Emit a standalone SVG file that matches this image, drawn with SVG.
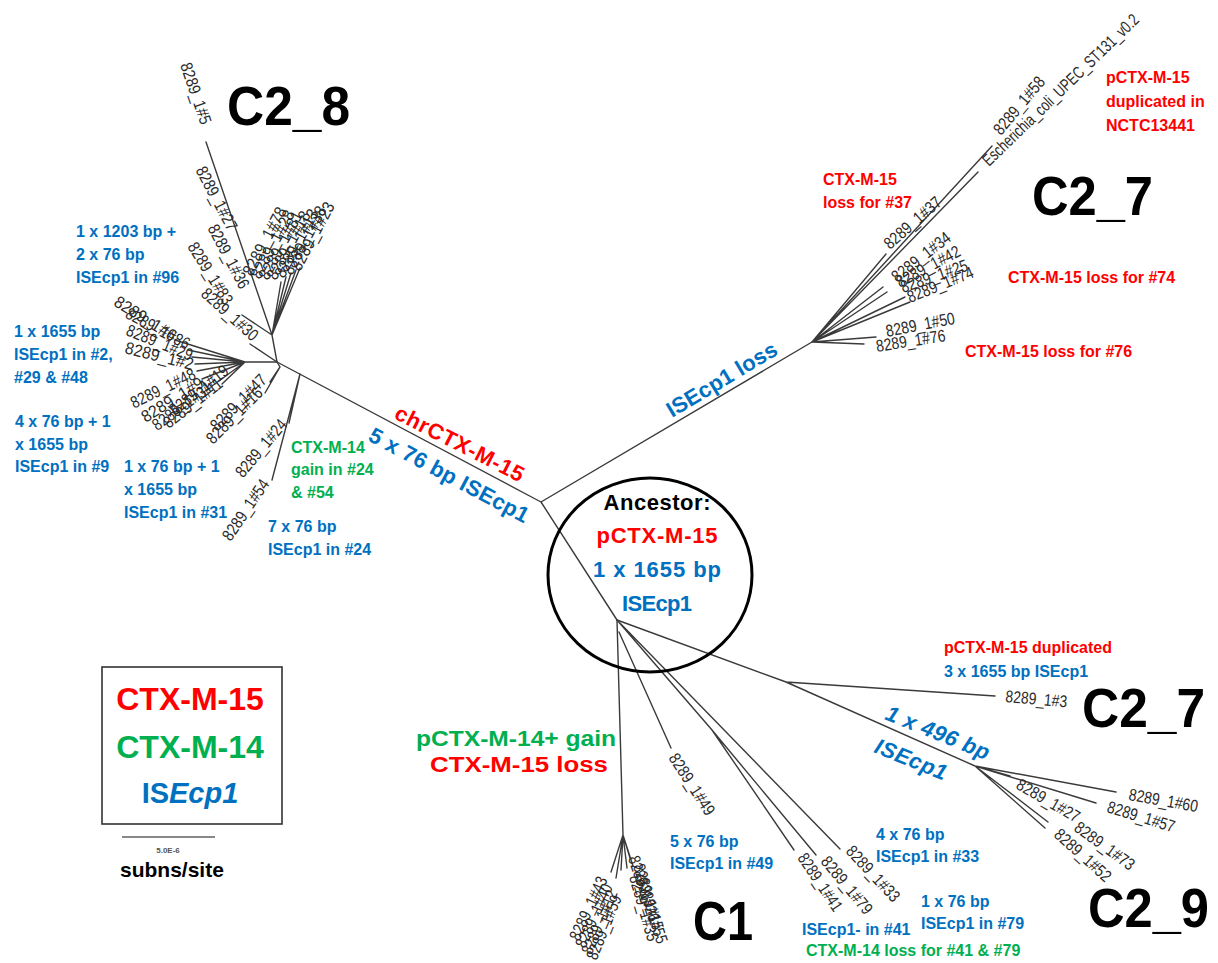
<svg xmlns="http://www.w3.org/2000/svg" width="1218" height="963" viewBox="0 0 1218 963">
<style>
.ln{stroke:#3a3a3a;stroke-width:1.4;fill:none;stroke-linecap:round}
.lf{font-family:"Liberation Sans Narrow","Liberation Sans",sans-serif;font-size:17px;fill:#2a2a2a}
.an{font-family:"Liberation Sans",Arial,sans-serif;font-weight:bold;font-size:16px}
.big{font-family:"Liberation Sans",Arial,sans-serif;font-weight:bold;font-size:56px;fill:#000}
.br{font-family:"Liberation Sans",Arial,sans-serif;font-weight:bold;font-size:22px}
.bl{fill:#0070C0}.rd{fill:#FF0000}.gr{fill:#00B050}
</style>
<rect width="1218" height="963" fill="#fff"/>
<g id="connectors">
<path class="ln" d="M541,502 L277,362 M541,502 L812,342 M541,502 L617,620"/>
<path class="ln" d="M812,342 L886,254 M812,342 L978,172 M812,342 L992,146 M812,342 L883,287 M812,342 L887,292 M812,342 L905,297 M812,342 L910,302 M812,342 L876,337 M812,342 L864,344"/>
<path class="ln" d="M617,620 L786,682 L995,696 M786,682 L975,766 L1116,792 M975,766 L1096,803 M975,766 L1010,776 M975,766 L1048,822 M975,766 L1045,828"/>
<path class="ln" d="M617,620 L623,835 M623,835 L611,872 M623,835 L616,878 M623,835 L621,870 M623,835 L627,868 M623,835 L633,866 M623,835 L630,858"/>
<path class="ln" d="M619,632 L671,748 M617,620 L712,730 L794,850 M712,730 L816,855 M617,620 L840,849"/>
<path class="ln" d="M277,362 L272,335 L206,142 M272,335 L281,282 M272,335 L286,277 M272,335 L291,273 M272,335 L296,270 M272,335 L300,268 M272,335 L242,315 M277,362 L250,344"/>
<path class="ln" d="M277,362 L245,362 M245,362 L175,340 M245,362 L188,350 M245,362 L192,357 M245,362 L195,364 M245,362 L197,371 M245,362 L202,379 M245,362 L212,386 M245,362 L222,384"/>
<path class="ln" d="M277,362 L280,367 L270,382 M280,367 L265,393 M300,374 L289,423 M300,374 L272,480"/>
</g>
<g id="ancestor">
<ellipse cx="650" cy="575" rx="102" ry="97" fill="none" stroke="#000" stroke-width="3"/>
<text class="br" x="657" y="510" text-anchor="middle" fill="#000" textLength="107">Ancestor:</text>
<text class="br rd" x="657" y="543" text-anchor="middle" textLength="121">pCTX-M-15</text>
<text class="br bl" x="657" y="577" text-anchor="middle" textLength="128">1 x 1655 bp</text>
<text class="br bl" x="657" y="611" text-anchor="middle" textLength="70">ISEcp1</text>
</g>
<g id="branch-labels">
<text class="br rd" transform="translate(393,418) rotate(27)" textLength="142">chrCTX-M-15</text>
<text class="br bl" transform="translate(367,440) rotate(28)" textLength="178">5 x 76 bp ISEcp1</text>
<text class="br bl" transform="translate(672,418) rotate(-31)" textLength="125">ISEcp1 loss</text>
<text class="br bl" font-style="italic" transform="translate(884,719) rotate(22)" textLength="110">1 x 496 bp</text>
<text class="br bl" font-style="italic" transform="translate(873,752) rotate(22)" textLength="76">ISEcp1</text>
<text class="an gr" x="416" y="746" style="font-size:22px" textLength="200" lengthAdjust="spacingAndGlyphs">pCTX-M-14+ gain</text>
<text class="an rd" x="430" y="772" style="font-size:22px" textLength="178" lengthAdjust="spacingAndGlyphs">CTX-M-15  loss</text>
</g>
<g id="clade-C2_7-top">
<text class="big" x="1032" y="215" textLength="121" lengthAdjust="spacingAndGlyphs">C2_7</text>
<text class="lf" transform="translate(890,250) rotate(-41)" textLength="70" lengthAdjust="spacingAndGlyphs">8289_1#37</text>
<text class="lf" transform="translate(989,167) rotate(-44)" textLength="210" lengthAdjust="spacingAndGlyphs">Escherichia_coli_UPEC_ST131_v0.2</text>
<text class="lf" transform="translate(1001,136) rotate(-50)" textLength="70" lengthAdjust="spacingAndGlyphs">8289_1#58</text>
<text class="lf" transform="translate(897,283) rotate(-38)" textLength="70" lengthAdjust="spacingAndGlyphs">8289_1#34</text>
<text class="lf" transform="translate(900,288) rotate(-28)" textLength="70" lengthAdjust="spacingAndGlyphs">8289_1#42</text>
<text class="lf" transform="translate(903,293) rotate(-19)" textLength="70" lengthAdjust="spacingAndGlyphs">8289_1#25</text>
<text class="lf" transform="translate(910,303) rotate(-22)" textLength="70" lengthAdjust="spacingAndGlyphs">8289_1#74</text>
<text class="lf" transform="translate(887,337) rotate(-11)" textLength="70" lengthAdjust="spacingAndGlyphs">8289_1#50</text>
<text class="lf" transform="translate(877,352) rotate(-9)" textLength="70" lengthAdjust="spacingAndGlyphs">8289_1#76</text>
<text class="an rd" x="1106" y="83">pCTX-M-15</text>
<text class="an rd" x="1106" y="107">duplicated in</text>
<text class="an rd" x="1106" y="131">NCTC13441</text>
<text class="an rd" x="823" y="185">CTX-M-15</text>
<text class="an rd" x="823" y="208">loss for #37</text>
<text class="an rd" x="1008" y="283">CTX-M-15 loss for #74</text>
<text class="an rd" x="965" y="357">CTX-M-15 loss for #76</text>
</g>
<g id="clade-C2_7-bottom">
<text class="big" x="1082" y="727" textLength="123" lengthAdjust="spacingAndGlyphs">C2_7</text>
<text class="lf" transform="translate(1005,702) rotate(5)" textLength="62" lengthAdjust="spacingAndGlyphs">8289_1#3</text>
<text class="an rd" x="944" y="653">pCTX-M-15 duplicated</text>
<text class="an bl" x="944" y="677">3 x 1655 bp ISEcp1</text>
</g>
<g id="clade-C2_9">
<text class="big" x="1088" y="927" textLength="121" lengthAdjust="spacingAndGlyphs">C2_9</text>
<text class="lf" transform="translate(1128,800) rotate(10)" textLength="70" lengthAdjust="spacingAndGlyphs">8289_1#60</text>
<text class="lf" transform="translate(1106,812) rotate(17)" textLength="70" lengthAdjust="spacingAndGlyphs">8289_1#57</text>
<text class="lf" transform="translate(1015,788) rotate(30)" textLength="70" lengthAdjust="spacingAndGlyphs">8289_1#27</text>
<text class="lf" transform="translate(1073,830) rotate(36)" textLength="70" lengthAdjust="spacingAndGlyphs">8289_1#73</text>
<text class="lf" transform="translate(1053,836) rotate(42)" textLength="70" lengthAdjust="spacingAndGlyphs">8289_1#52</text>
<text class="an bl" x="876" y="840">4 x 76 bp</text>
<text class="an bl" x="876" y="862">ISEcp1 in #33</text>
<text class="an bl" x="921" y="907">1 x 76 bp</text>
<text class="an bl" x="921" y="929">ISEcp1 in #79</text>
<text class="an bl" x="802" y="935">ISEcp1- in #41</text>
<text class="an gr" x="806" y="956">CTX-M-14 loss for #41 &amp; #79</text>
</g>
<g id="clade-C1">
<text class="big" x="693" y="940" textLength="60" lengthAdjust="spacingAndGlyphs">C1</text>
<text class="lf" transform="translate(668,758) rotate(57)" textLength="70" lengthAdjust="spacingAndGlyphs">8289_1#49</text>
<text class="lf" transform="translate(797,858) rotate(56)" textLength="66" lengthAdjust="spacingAndGlyphs">8289_1#41</text>
<text class="lf" transform="translate(820,862) rotate(50)" textLength="70" lengthAdjust="spacingAndGlyphs">8289_1#79</text>
<text class="lf" transform="translate(845,852) rotate(47)" textLength="70" lengthAdjust="spacingAndGlyphs">8289_1#33</text>
<text class="lf" text-anchor="end" transform="translate(608,880) rotate(-65)" textLength="68" lengthAdjust="spacingAndGlyphs">8289_1#43</text>
<text class="lf" text-anchor="end" transform="translate(613,887) rotate(-66)" textLength="68" lengthAdjust="spacingAndGlyphs">8289_1#40</text>
<text class="lf" text-anchor="end" transform="translate(618,893) rotate(-67)" textLength="68" lengthAdjust="spacingAndGlyphs">8289_1#12</text>
<text class="lf" text-anchor="end" transform="translate(622,898) rotate(-68)" textLength="68" lengthAdjust="spacingAndGlyphs">8289_1#59</text>
<text class="lf" transform="translate(628,858) rotate(72)" textLength="68" lengthAdjust="spacingAndGlyphs">8289_1#26</text>
<text class="lf" transform="translate(633,866) rotate(73)" textLength="68" lengthAdjust="spacingAndGlyphs">8289_1#15</text>
<text class="lf" transform="translate(629,877) rotate(74)" textLength="68" lengthAdjust="spacingAndGlyphs">8289_1#35</text>
<text class="lf" transform="translate(636,880) rotate(72)" textLength="68" lengthAdjust="spacingAndGlyphs">8289_1#55</text>
<text class="an bl" x="670" y="847">5 x 76 bp</text>
<text class="an bl" x="670" y="869">ISEcp1 in #49</text>
</g>
<g id="clade-C2_8">
<text class="big" x="227" y="125" textLength="123" lengthAdjust="spacingAndGlyphs">C2_8</text>
<text class="lf" transform="translate(180,65) rotate(71)" textLength="64" lengthAdjust="spacingAndGlyphs">8289_1#5</text>
<text class="lf" transform="translate(300,272) rotate(-62)" textLength="75" lengthAdjust="spacingAndGlyphs">8289_1#23</text>
<text class="lf" transform="translate(292,276) rotate(-62)" textLength="75" lengthAdjust="spacingAndGlyphs">8289_1#38</text>
<text class="lf" transform="translate(284,279) rotate(-62)" textLength="75" lengthAdjust="spacingAndGlyphs">8289_1#13</text>
<text class="lf" transform="translate(276,281) rotate(-62)" textLength="75" lengthAdjust="spacingAndGlyphs">8289_1#18</text>
<text class="lf" transform="translate(268,281) rotate(-62)" textLength="75" lengthAdjust="spacingAndGlyphs">8289_1#81</text>
<text class="lf" transform="translate(260,280) rotate(-62)" textLength="75" lengthAdjust="spacingAndGlyphs">8289_1#28</text>
<text class="lf" transform="translate(252,277) rotate(-62)" textLength="75" lengthAdjust="spacingAndGlyphs">8289_1#78</text>
<text class="lf" text-anchor="end" transform="translate(228,232) rotate(62)" textLength="70" lengthAdjust="spacingAndGlyphs">8289_1#27</text>
<text class="lf" text-anchor="end" transform="translate(240,290) rotate(62)" textLength="70" lengthAdjust="spacingAndGlyphs">8289_1#36</text>
<text class="lf" text-anchor="end" transform="translate(224,306) rotate(58)" textLength="70" lengthAdjust="spacingAndGlyphs">8289_1#83</text>
<text class="lf" text-anchor="end" transform="translate(252,342) rotate(42)" textLength="70" lengthAdjust="spacingAndGlyphs">8289_1#30</text>
<text class="an bl" x="76" y="237">1 x 1203 bp +</text>
<text class="an bl" x="76" y="260">2 x 76 bp</text>
<text class="an bl" x="76" y="283">ISEcp1 in #96</text>
</g>
<g id="clade-left">
<text class="lf" text-anchor="end" transform="translate(172,342) rotate(32)" textLength="70" lengthAdjust="spacingAndGlyphs">8289_1#6</text>
<text class="lf" text-anchor="end" transform="translate(186,350) rotate(28)" textLength="70" lengthAdjust="spacingAndGlyphs">8289_1#86</text>
<text class="lf" text-anchor="end" transform="translate(190,361) rotate(22)" textLength="70" lengthAdjust="spacingAndGlyphs">8289_1#29</text>
<text class="lf" text-anchor="end" transform="translate(192,370) rotate(14)" textLength="70" lengthAdjust="spacingAndGlyphs">8289_1#2</text>
<text class="lf" text-anchor="end" transform="translate(197,378) rotate(-26)" textLength="70" lengthAdjust="spacingAndGlyphs">8289_1#48</text>
<text class="lf" text-anchor="end" transform="translate(205,386) rotate(-32)" textLength="70" lengthAdjust="spacingAndGlyphs">8289_1#9</text>
<text class="lf" text-anchor="end" transform="translate(214,390) rotate(-36)" textLength="70" lengthAdjust="spacingAndGlyphs">8289_1#31</text>
<text class="lf" text-anchor="end" transform="translate(224,386) rotate(-38)" textLength="70" lengthAdjust="spacingAndGlyphs">8289_1#11</text>
<text class="lf" text-anchor="end" transform="translate(230,373) rotate(-38)" textLength="70" lengthAdjust="spacingAndGlyphs">8289_1#19</text>
<text class="lf" text-anchor="end" transform="translate(268,381) rotate(-45)" textLength="72" lengthAdjust="spacingAndGlyphs">8289_1#47</text>
<text class="lf" text-anchor="end" transform="translate(264,394) rotate(-45)" textLength="72" lengthAdjust="spacingAndGlyphs">8289_1#16</text>
<text class="lf" text-anchor="end" transform="translate(288,425) rotate(-50)" textLength="70" lengthAdjust="spacingAndGlyphs">8289_1#24</text>
<text class="lf" text-anchor="end" transform="translate(270,484) rotate(-56)" textLength="70" lengthAdjust="spacingAndGlyphs">8289_1#54</text>
<text class="an bl" x="14" y="337">1 x 1655 bp</text>
<text class="an bl" x="14" y="360">ISEcp1 in #2,</text>
<text class="an bl" x="14" y="383">#29 &amp; #48</text>
<text class="an bl" x="15" y="427">4 x 76 bp + 1</text>
<text class="an bl" x="15" y="450">x 1655 bp</text>
<text class="an bl" x="15" y="472">ISEcp1 in #9</text>
<text class="an bl" x="124" y="472">1 x 76 bp + 1</text>
<text class="an bl" x="124" y="495">x 1655 bp</text>
<text class="an bl" x="124" y="518">ISEcp1 in #31</text>
<text class="an gr" x="291" y="453">CTX-M-14</text>
<text class="an gr" x="291" y="475">gain in #24</text>
<text class="an gr" x="291" y="498">&amp; #54</text>
<text class="an bl" x="268" y="532">7 x 76 bp</text>
<text class="an bl" x="268" y="555">ISEcp1 in #24</text>
</g>
<g id="legend">
<rect x="102" y="667" width="180" height="157" fill="none" stroke="#333" stroke-width="1.6"/>
<text class="an rd" x="190" y="710" style="font-size:32px" text-anchor="middle">CTX-M-15</text>
<text class="an gr" x="190" y="758" style="font-size:32px" text-anchor="middle">CTX-M-14</text>
<text class="an bl" x="190" y="803" style="font-size:29px" text-anchor="middle">IS<tspan font-style="italic">Ecp1</tspan></text>
<line x1="122" y1="837" x2="215" y2="837" stroke="#888" stroke-width="2"/>
<text class="an" x="168" y="853" style="font-size:8px;fill:#555" text-anchor="middle">5.0E-6</text>
<text class="an" x="120" y="877" style="font-size:21px;fill:#000">subns/site</text>
</g>
</svg>
